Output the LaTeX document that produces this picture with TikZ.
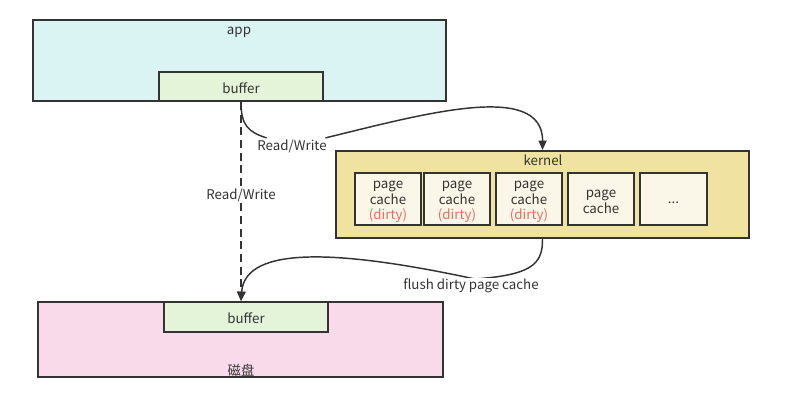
\documentclass[tikz,border=0pt]{standalone}
\usepackage{fontspec}
\setmainfont{Noto Sans CJK SC}
\usetikzlibrary{arrows.meta}
\tikzset{>={Triangle[length=7pt,width=6pt]}}
\definecolor{linegray}{RGB}{51,51,51}
\definecolor{appfill}{RGB}{218,243,243}
\definecolor{buffill}{RGB}{227,244,216}
\definecolor{kernfill}{RGB}{240,226,160}
\definecolor{cachefill}{RGB}{251,247,232}
\definecolor{diskfill}{RGB}{249,218,234}
\definecolor{dirtyred}{RGB}{234,107,102}
\tikzstyle{box}=[draw=linegray, line width=1.5pt, inner sep=0pt, text=linegray]
\tikzstyle{cache}=[box, fill=cachefill, align=center]
\tikzstyle{lbl}=[text=linegray, inner sep=1pt]
\tikzstyle{flow}=[draw=linegray, line width=1.1pt]

\begin{document}
\begin{tikzpicture}[x=0.75pt, y=-0.75pt, font=\fontsize{10}{11.6}\selectfont]
  \useasboundingbox (0,0) rectangle (785,414);
  \def\pxu{0.75pt} % one pixel of the reference

  % APP
  \node[box, fill=appfill, minimum width=413*\pxu, minimum height=81*\pxu] (app) at (239.5,60.5) {};
  \node[lbl] (apptext) at (239,32) {app};
  \node[box, fill=buffill, minimum width=164*\pxu, minimum height=29*\pxu, text height=10pt] (appbuf) at (241,86.5) {buffer};

  % KERNEL
  \node[box, fill=kernfill, minimum width=413*\pxu, minimum height=87*\pxu] (kern) at (542.5,194.5) {};
  \node[lbl] (kerntext) at (543,160.5) {kernel};
  \foreach \x/\n in {388/pc1, 457/pc2, 529/pc3}
    \node[cache, minimum width=66*\pxu, minimum height=52*\pxu] (\n) at (\x,199)
      {\rule{0pt}{10pt}page\\cache\\\textcolor{dirtyred}{(dirty)}};
  \node[cache, minimum width=66*\pxu, minimum height=52*\pxu] (pc4) at (601,199) {\rule{0pt}{10pt}page\\cache};
  \node[cache, minimum width=67*\pxu, minimum height=52*\pxu, text height=7pt, text depth=0pt] (pc5) at (673.5,199) {...};

  % DISK
  \node[box, fill=diskfill, minimum width=405*\pxu, minimum height=75*\pxu] (disk) at (240.5,339.5) {};
  \node[lbl] (disktext) at (241,370) {磁盘};
  \node[box, fill=buffill, minimum width=164*\pxu, minimum height=30*\pxu, text height=10pt] (diskbuf) at (246,317) {buffer};
  \coordinate (hit) at (appbuf.south |- diskbuf.north);

  % FLOWS
  \draw[flow, ->, dash pattern=on 6pt off 3.5pt] (appbuf.south) -- (hit)
    node[lbl, fill=white, pos=0.47] (rwdirect) {Read/Write};

  \node[lbl] (rwcache) at (292,146) {Read/Write};
  \draw[flow] (appbuf.south) .. controls (241,125) and (248,132) .. (rwcache);
  \draw[flow, ->] (rwcache) .. controls (420,115) and (543,80) .. (kern.north);

  \coordinate (flushpt) at (475,279);
  \draw[flow] (kern.south) .. controls (543,265) and (530,275) .. (flushpt);
  \draw[flow, ->] (flushpt) .. controls (340,250) and (245,245) .. (hit);
  \node[lbl, fill=white] (flush) at (471,286) {flush dirty page cache};
\end{tikzpicture}
\end{document}
